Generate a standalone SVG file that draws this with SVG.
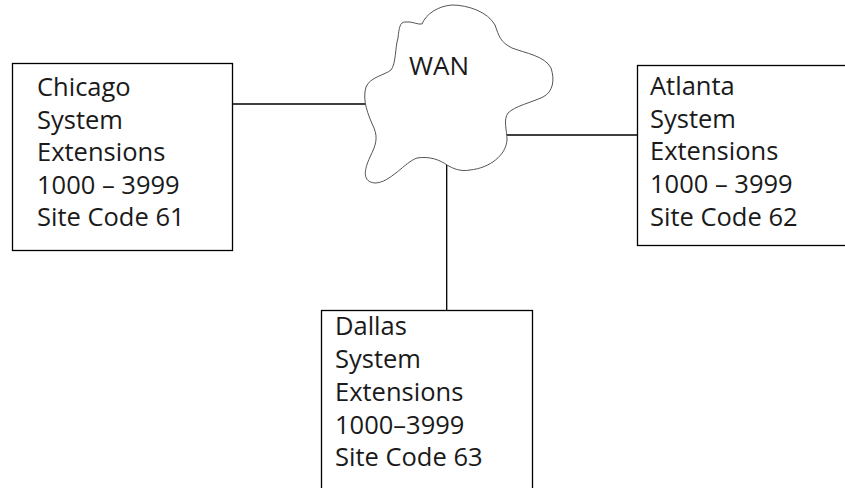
<svg xmlns="http://www.w3.org/2000/svg" width="845" height="488" viewBox="0 0 845 488">
<style>
.box{fill:#fff;stroke:#000;stroke-width:1.3}
.t{font-family:"Open Sans","Liberation Sans",sans-serif;font-size:25.5px;fill:#1a1a1a}
.w{font-family:"Open Sans","Liberation Sans",sans-serif;font-size:26px;fill:#1a1a1a}
.ln{stroke:#000;stroke-width:1.3;fill:none}
.cloud{fill:#fff;stroke:#555;stroke-width:1}
</style>
<rect width="845" height="488" fill="#fff"/>
<g id="connectors">
<line class="ln" x1="232" y1="104" x2="369" y2="104"/>
<line class="ln" x1="505" y1="135" x2="637" y2="135"/>
<line class="ln" x1="446.7" y1="164" x2="446.7" y2="310"/>
</g>
<g id="wan">
<path class="cloud" d="M398,38 C399,28 400,22 405,22 C412,21 418,25 422,24 C426,14 438,6 452,5 C468,5 488,12 495,25 C499,36 500,42 512,48 C525,53 545,56 551,68 C555,80 553,92 543,97 C530,103 515,106 508,113 C503,120 507,130 507,140 C506,155 490,168 470,170 C460,172 452,168 447,165 C440,160 430,156 417,158 C405,162 390,183 375,183 C362,182 364,170 370,157 C376,145 378,138 374,128 C368,115 362,100 366,87 C370,77 385,75 391,70 C396,64 395,48 398,38 Z"/>
<text class="w" x="409" y="75">WAN</text>
</g>
<g id="chicago">
<rect class="box" x="12.5" y="63.5" width="220" height="187"/>
<text class="t" x="37" y="96">Chicago</text>
<text class="t" x="37" y="129">System</text>
<text class="t" x="37" y="161">Extensions</text>
<text class="t" x="37" y="194">1000 – 3999</text>
<text class="t" x="37" y="226">Site Code 61</text>
</g>
<g id="atlanta">
<rect class="box" x="637.5" y="65.5" width="220" height="180"/>
<text class="t" x="650" y="95">Atlanta</text>
<text class="t" x="650" y="128">System</text>
<text class="t" x="650" y="160">Extensions</text>
<text class="t" x="650" y="193">1000 – 3999</text>
<text class="t" x="650" y="226">Site Code 62</text>
</g>
<g id="dallas">
<rect class="box" x="321.5" y="310.5" width="211" height="200"/>
<text class="t" x="335" y="335">Dallas</text>
<text class="t" x="335" y="368">System</text>
<text class="t" x="335" y="401">Extensions</text>
<text class="t" x="335" y="434">1000–3999</text>
<text class="t" x="335" y="466">Site Code 63</text>
</g>
</svg>
